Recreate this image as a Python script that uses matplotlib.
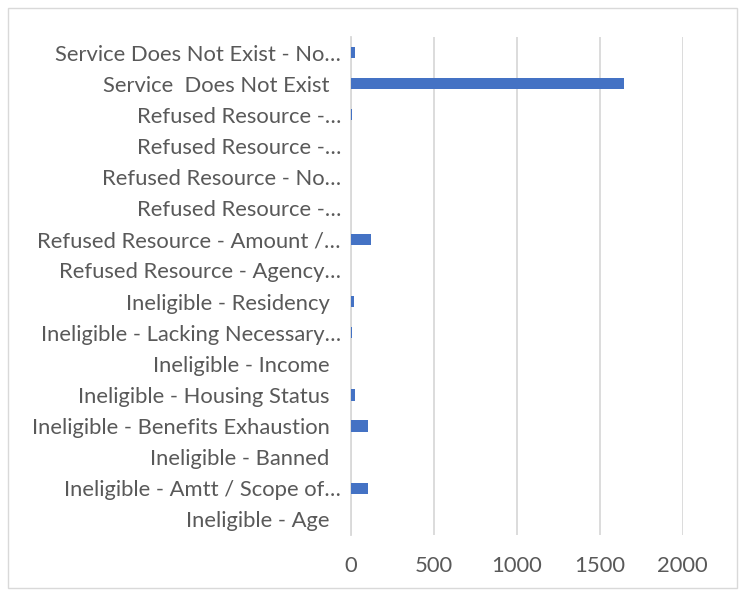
import matplotlib
matplotlib.use("Agg")
import matplotlib.pyplot as plt
from matplotlib.patches import Rectangle

categories = [
    "Ineligible - Age  ",
    "Ineligible - Amtt / Scope of…",
    "Ineligible - Banned  ",
    "Ineligible - Benefits Exhaustion  ",
    "Ineligible - Housing Status  ",
    "Ineligible - Income  ",
    "Ineligible - Lacking Necessary…",
    "Ineligible - Residency  ",
    "Refused Resource - Agency…",
    "Refused Resource - Amount /…",
    "Refused Resource -…",
    "Refused Resource - No…",
    "Refused Resource -…",
    "Refused Resource -…",
    "Service  Does Not Exist  ",
    "Service Does Not Exist - No…",
]
values = [0, 104, 0, 104, 28, 4, 5, 22, 0, 122, 0, 0, 0, 8, 1645, 25]
xticks = [0, 500, 1000, 1500, 2000]

TEXT = "#595959"
GRID = "#D9D9D9"
BAR = "#4472C4"

plt.rcParams['font.family'] = ['Lato', 'DejaVu Sans']

fig = plt.figure(figsize=(7.42, 5.92), dpi=100)
W, H = 742, 592
ax = fig.add_axes([350.7 / W, 1 - 535 / H, (682.7 - 350.7) / W, (535 - 37) / H])

ypos = list(range(len(categories)))
ax.barh(ypos, values, height=0.36, color=BAR, zorder=3)
ax.set_xlim(0, 2000)
ax.set_ylim(-0.5, len(categories) - 0.5)
ax.set_xticks(xticks)
ax.set_xticklabels([str(t) for t in xticks])
ax.set_yticks(ypos)
ax.set_yticklabels(categories)
ax.tick_params(axis='both', length=0, colors=TEXT, labelsize=15.8)
ax.tick_params(axis='x', pad=15)
ax.tick_params(axis='y', pad=7)
ax.grid(axis='x', color=GRID, linewidth=1.3, zorder=0)
for s in ['top', 'right', 'bottom']:
    ax.spines[s].set_visible(False)
ax.spines['left'].set_color(GRID)
ax.spines['left'].set_linewidth(1.3)

fig.patches.append(Rectangle((8 / W, 1 - 588 / H), (737 - 8) / W, (588 - 8) / H,
                             transform=fig.transFigure, fill=False,
                             edgecolor=GRID, linewidth=1))
fig.savefig("out.png", dpi=100)
